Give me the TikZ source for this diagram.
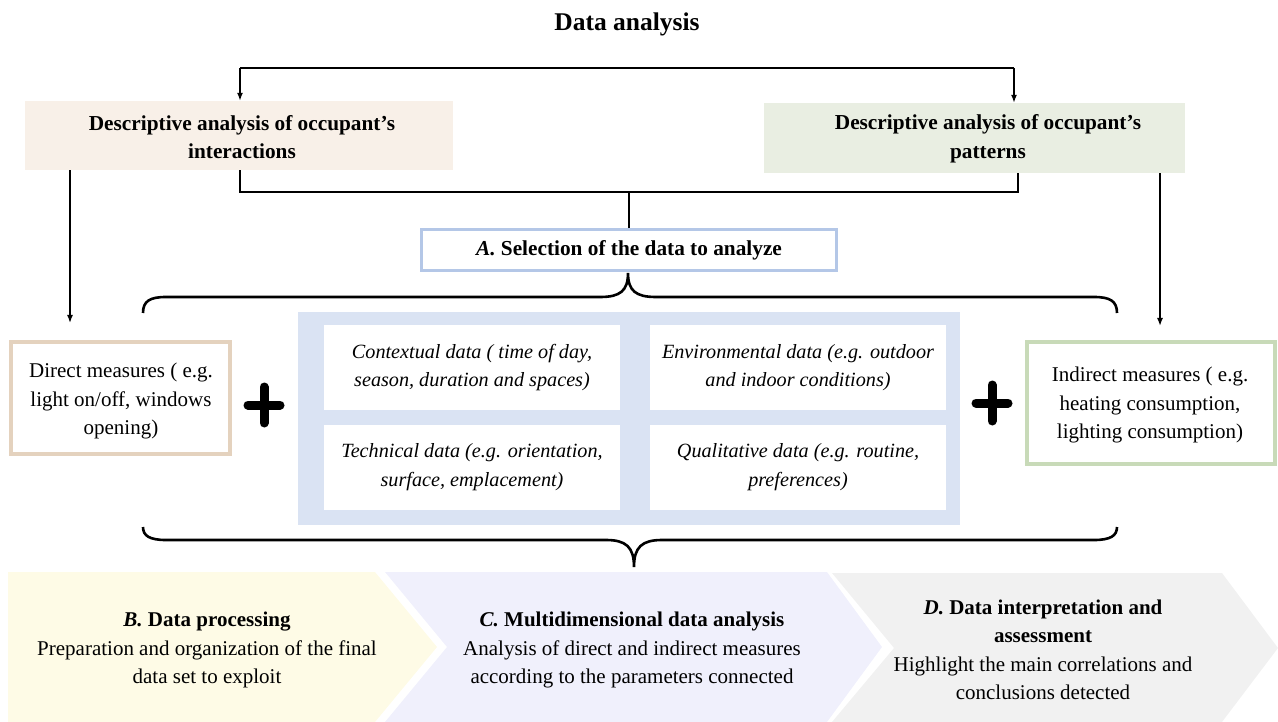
\documentclass[tikz,border=0pt]{standalone}
\usepackage{fontspec}
\setmainfont{Liberation Serif}
\usetikzlibrary{arrows.meta}
\definecolor{beigefill}{RGB}{248,240,232}
\definecolor{greenfill}{RGB}{233,238,226}
\definecolor{bluebord}{RGB}{180,199,231}
\definecolor{bluefill}{RGB}{218,227,243}
\definecolor{tanbord}{RGB}{228,210,190}
\definecolor{greenbord}{RGB}{200,218,184}
\definecolor{yelfill}{RGB}{254,251,230}
\definecolor{lavfill}{RGB}{240,240,252}
\definecolor{grayfill}{RGB}{241,241,241}
\begin{document}
\begin{tikzpicture}[x=1pt,y=-1pt,
  txt/.style={font=\fontsize{21}{28.5}\selectfont, align=center, inner sep=0pt},
  btxt/.style={font=\bfseries\fontsize{21.3}{28.5}\selectfont, align=center, inner sep=0pt},
  shaded/.style={inner sep=0pt, draw=none},
  bordbox/.style={inner sep=0pt, fill=white, line width=4pt},
  whitebox/.style={fill=white, inner sep=0pt, minimum width=296pt, minimum height=85pt,
    font=\itshape\fontsize{20.2}{28.5}\selectfont, align=center},
  conn/.style={line width=1.5pt},
  arr/.style={line width=1.5pt, -{Latex[length=8pt,width=6pt]}},
  bracestyle/.style={line width=2.6pt},
  plusstyle/.style={line width=9pt, line cap=round}
]
\useasboundingbox (0,0) rectangle (1278,722);

% title
\node[font=\bfseries\fontsize{25.5}{28}\selectfont, inner sep=0pt] (title) at (627,24) {Data analysis};

% descriptive boxes
\node[shaded, fill=beigefill, minimum width=428pt, minimum height=69pt] (lb) at (239,135.5) {};
\node[btxt] (lbt) at (242,137) {Descriptive analysis of occupant’s\\interactions};
\node[shaded, fill=greenfill, minimum width=421pt, minimum height=70pt] (rb) at (974.5,138) {};
\node[btxt] (rbt) at (988,139) {Descriptive analysis of occupant’s\\patterns};

% top connector
\coordinate (t1) at (240,68);
\coordinate (t2) at (1014,68);
\draw[conn] (t1) -- (t2);
\draw[arr] (t1) -- (t1 |- lb.north);
\draw[arr] (t2) -- (t2 |- rb.north);

% A box
\node[draw=bluebord, line width=3pt, fill=white, minimum width=415pt, minimum height=41pt, inner sep=0pt,
  font=\bfseries\fontsize{21.3}{28.5}\selectfont] (abox) at (629,250) {\textit{A.} Selection of the data to analyze};

% lower connector
\coordinate (b1) at (240,192);
\coordinate (b2) at (1018,192);
\draw[conn] (b1 |- lb.south) -- (b1) -- (b2) -- (b2 |- rb.south);
\draw[conn] (abox.north |- b1) -- (abox.north);

% direct & indirect
\node[bordbox, draw=tanbord, minimum width=219pt, minimum height=112pt] (direct) at (120.5,398) {};
\node[txt] (directt) at (121,401) {Direct measures ( e.g.\\light on/off, windows\\opening)};
\node[bordbox, draw=greenbord, minimum width=248pt, minimum height=122pt] (indirect) at (1151,403) {};
\node[txt] (indirectt) at (1150,405) {Indirect measures ( e.g.\\heating consumption,\\lighting consumption)};

% side arrows
\coordinate (la) at (70,323);
\coordinate (ra) at (1160,326);
\draw[arr] (lb.south -| la) -- (la);
\draw[arr] (rb.south -| ra) -- (ra);

% blue panel
\node[shaded, fill=bluefill, minimum width=662pt, minimum height=213pt] (panel) at (629,418.5) {};
\node[whitebox] (ctx) at (472,367.5) {Contextual data ( time of day,\\season, duration and spaces)};
\node[whitebox] (env) at (798,367.5) {Environmental data (e.g. outdoor\\and indoor conditions)};
\node[whitebox] (tec) at (472,467) {Technical data (e.g. orientation,\\surface, emplacement)};
\node[whitebox] (qua) at (798,467) {Qualitative data (e.g. routine,\\preferences)};

% plus signs
\coordinate (p1) at (264,405);
\coordinate (p2) at (992,403);
\draw[plusstyle] ([xshift=-16pt]p1) -- ([xshift=16pt]p1);
\draw[plusstyle] ([yshift=-18pt]p1) -- ([yshift=18pt]p1);
\draw[plusstyle] ([xshift=-16pt]p2) -- ([xshift=16pt]p2);
\draw[plusstyle] ([yshift=-18pt]p2) -- ([yshift=18pt]p2);

% braces
\draw[bracestyle] (143,313) .. controls (143,301) and (150,297) .. (166,297) -- (600,297)
  .. controls (620,297) and (628,291) .. (628,273)
  .. controls (628,291) and (636,297) .. (656,297) -- (1094,297)
  .. controls (1110,297) and (1117,301) .. (1117,313);
\draw[bracestyle] (143,527) .. controls (143,536) and (150,540) .. (166,540) -- (606,540)
  .. controls (626,540) and (634,547) .. (634,567)
  .. controls (634,547) and (642,540) .. (662,540) -- (1094,540)
  .. controls (1110,540) and (1117,536) .. (1117,527);

% chevrons
\fill[yelfill] (8,572) -- (375,572) -- (437,647) -- (375,722) -- (8,722) -- cycle;
\fill[lavfill] (385,572) -- (827,572) -- (882,647) -- (827,722) -- (385,722) -- (447,647) -- cycle;
\fill[grayfill] (832,573) -- (1222,573) -- (1278,648) -- (1222,722) -- (832,722) -- (894,648) -- cycle;

\node[txt] (bt) at (207,650) {\textbf{\textit{B.} Data processing}\\Preparation and organization of the final\\data set to exploit};
\node[txt] (ct) at (632,650) {\textbf{\textit{C.} Multidimensional data analysis}\\Analysis of direct and indirect measures\\according to the parameters connected};
\node[txt] (dt) at (1043,650) {\textbf{\textit{D.} Data interpretation and}\\\textbf{assessment}\\Highlight the main correlations and\\conclusions detected};
\end{tikzpicture}
\end{document}
